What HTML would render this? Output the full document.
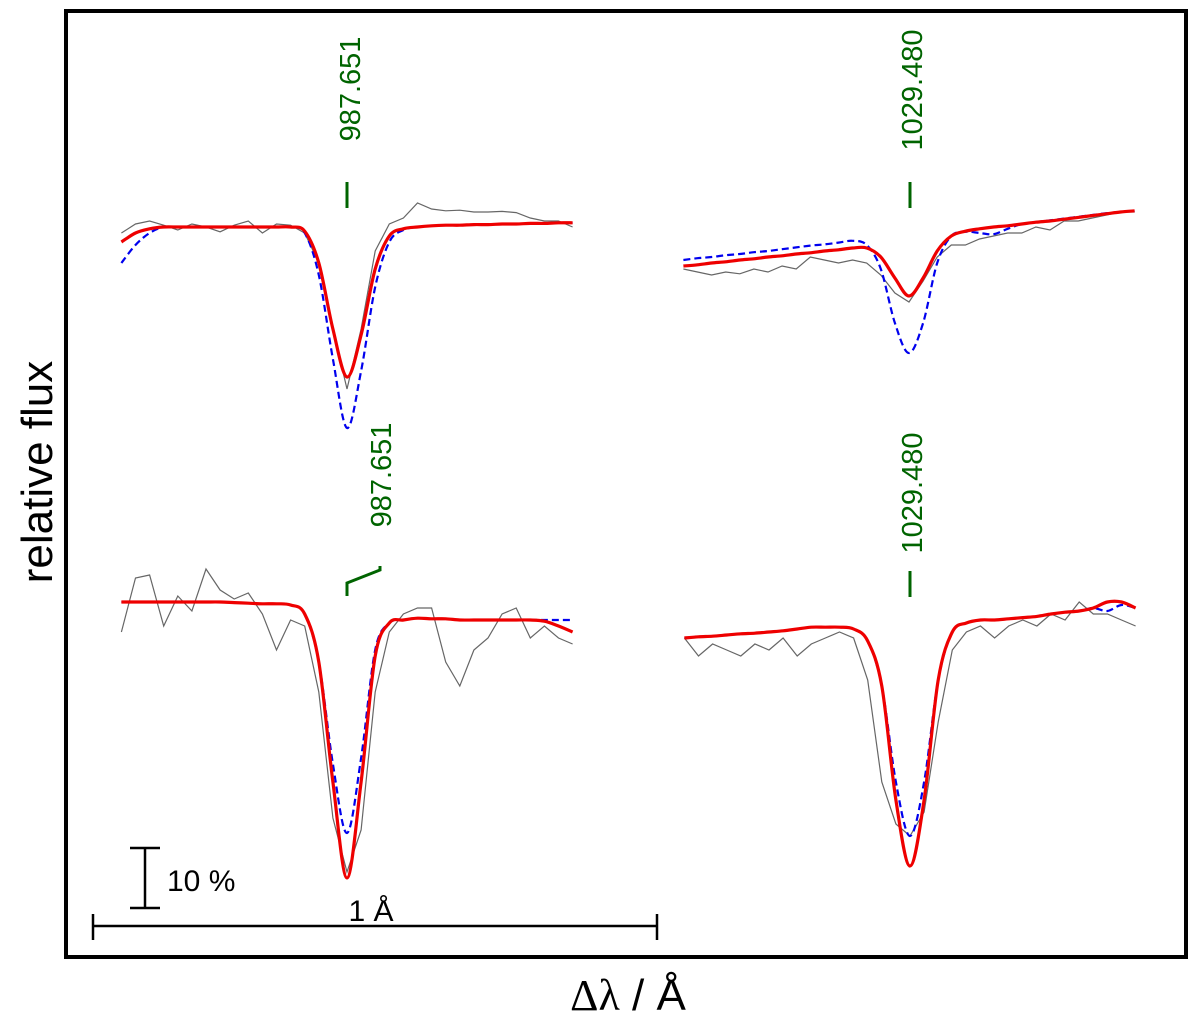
<!DOCTYPE html>
<html><head><meta charset="utf-8"><style>
html,body{margin:0;padding:0;background:#fff;}
svg{display:block;font-family:"Liberation Sans",sans-serif;}
</style></head><body>
<svg id="chart" width="1200" height="1012" viewBox="0 0 1200 1012" xmlns="http://www.w3.org/2000/svg">
<rect x="66" y="11" width="1120" height="946" fill="none" stroke="#000" stroke-width="4"/>
<text transform="translate(52,472) rotate(-90)" text-anchor="middle" font-size="44">relative flux</text>
<text x="628" y="1010" text-anchor="middle" font-size="44"><tspan font-family="Liberation Serif,serif">Δλ</tspan> / Å</text>
<g stroke="#000" stroke-width="2.5">
<line x1="145" y1="848" x2="145" y2="908"/><line x1="130" y1="848" x2="160" y2="848"/><line x1="130" y1="908" x2="160" y2="908"/>
</g>
<text x="167" y="891" font-size="30">10 %</text>
<g stroke="#000" stroke-width="2.5">
<line x1="93" y1="926" x2="657" y2="926"/><line x1="93" y1="914" x2="93" y2="940"/><line x1="657" y1="914" x2="657" y2="940"/>
</g>
<text x="371" y="921" text-anchor="middle" font-size="30">1 Å</text>
<g id="marks"></g>
</svg>
<script>
const dlGrid = [-0.4,-0.375,-0.35,-0.325,-0.3,-0.275,-0.25,-0.225,-0.2,-0.175,-0.15,-0.125,-0.1,-0.075,-0.05,-0.025,0,0.025,0.05,0.075,0.1,0.125,0.15,0.175,0.2,0.225,0.25,0.275,0.3,0.325,0.35,0.375,0.4];
const lineLabels = ["987.651","1029.480","987.651","1029.480"];
const p1Obs = [-1,0.5,1,0.3,-0.5,0.5,0,-0.8,0.3,1,-1,0.5,0.3,-1,-6,-17,-27,-17,-4,0.5,1.5,4,3,2.7,2.8,2.5,2.5,2.6,2.4,1.5,1,1,0];
const p1Fit = [-2.5,-1,-0.3,0,0,0,0,0,0,0,0,0,0,-0.7,-6,-17,-25,-18,-7,-1.5,-0.3,0,0.2,0.3,0.3,0.4,0.4,0.5,0.5,0.6,0.6,0.7,0.7];
const p1Alt = [-6,-3,-1,0,0,0,0,0,0,0,0,0,0,-1,-8,-22,-33.5,-24,-10,-2.5,-0.5,0,0.2,0.3,0.3,0.4,0.4,0.5,0.5,0.6,0.6,0.7,0.7];
const p2Obs = [-7,-7.5,-8,-7.5,-7.8,-7,-7.5,-6.5,-7,-5,-5.5,-6,-5.5,-6,-8,-11,-12.5,-9,-5,-3,-3,-2,-1.5,-1,-1,0,-0.5,1,1,1.5,2,2.5,2.5];
const p2Fit = [-6.5,-6.3,-6,-5.8,-5.5,-5.3,-5,-4.8,-4.5,-4.3,-4,-3.8,-3.5,-3.5,-5,-8.5,-11.5,-8.5,-4,-1.5,-0.7,-0.3,0,0.2,0.5,0.8,1,1.3,1.6,1.9,2.2,2.5,2.7];
const p2Alt = [-5.5,-5.2,-5,-4.7,-4.5,-4.2,-4,-3.7,-3.4,-3.1,-2.9,-2.6,-2.3,-3,-7,-16,-21,-16,-6,-1.5,-0.8,-1,-1.2,-0.3,0.5,0.8,1.1,1.4,1.7,2,2.3,2.5,2.7];
const p3Obs = [-5,4,4.5,-4,1,-1.5,5.5,2,0.5,1.5,-2,-8,-3,-4,-15,-36,-45,-38,-15,-5,-2,-1,-1,-10,-14,-8,-6,-2,-1,-6,-4,-6,-7];
const p3Fit = [0,0,0,0,0,0,0,0,-0.1,-0.2,-0.3,-0.3,-0.5,-2,-10,-30,-46,-30,-9,-3.5,-3,-2.7,-2.8,-2.8,-3,-3,-3,-3,-3,-3,-3.2,-4,-5];
const p3Alt = [0,0,0,0,0,0,0,0,-0.1,-0.2,-0.3,-0.3,-0.5,-2,-10,-27,-38.5,-26,-8,-3.5,-3,-2.7,-2.8,-2.8,-3,-3,-3,-3,-3,-3,-3,-3,-3];
const p4Obs = [-1,-4,-2,-3,-4,-2,-3,-1,-4,-2,-1,0,-1,-8,-25,-32,-34,-30,-15,-3,0,1,-1,1,2,1,3,2,5,3,3,2,1];
const p4Fit = [-1,-0.8,-0.7,-0.5,-0.3,-0.2,0,0.2,0.5,0.8,0.8,0.8,0.5,-1.5,-9,-28,-39,-28,-8,0,1.5,2,2,2.2,2.4,2.6,3,3.3,3.5,4,5,5,4];
const p4Alt = [-1,-0.8,-0.7,-0.5,-0.3,-0.2,0,0.2,0.5,0.8,0.8,0.8,0.5,-1.5,-9,-25,-34,-25,-8,0,1.5,2,2,2.2,2.4,2.6,3,3.3,3.5,4,3.5,4.5,4];

const panels = [
  {cx:347, by:227, obs:p1Obs, fit:p1Fit, alt:p1Alt, name:'panel-1'},
  {cx:909, by:227, obs:p2Obs, fit:p2Fit, alt:p2Alt, name:'panel-2'},
  {cx:347, by:602, obs:p3Obs, fit:p3Fit, alt:p3Alt, name:'panel-3'},
  {cx:910, by:632, obs:p4Obs, fit:p4Fit, alt:p4Alt, name:'panel-4'}
];
const PX_PER_A = 564, PX_PER_PCT = 6;
function xScale(p, dl){ return p.cx + dl*PX_PER_A; }
function yScale(p, f){ return p.by - f*PX_PER_PCT; }
function smoothPath(pts){
  let d = 'M'+pts[0][0].toFixed(1)+','+pts[0][1].toFixed(1);
  for(let i=0;i<pts.length-1;i++){
    const p0=pts[Math.max(0,i-1)], p1=pts[i], p2=pts[i+1], p3=pts[Math.min(pts.length-1,i+2)];
    const c1=[p1[0]+(p2[0]-p0[0])/6, p1[1]+(p2[1]-p0[1])/6];
    const c2=[p2[0]-(p3[0]-p1[0])/6, p2[1]-(p3[1]-p1[1])/6];
    d+=' C'+c1[0].toFixed(1)+','+c1[1].toFixed(1)+' '+c2[0].toFixed(1)+','+c2[1].toFixed(1)+' '+p2[0].toFixed(1)+','+p2[1].toFixed(1);
  }
  return d;
}
function linPath(pts){ return 'M'+pts.map(q=>q[0].toFixed(1)+','+q[1].toFixed(1)).join(' L'); }
const NS='http://www.w3.org/2000/svg';
const g=document.getElementById('marks');
panels.forEach((p,k)=>{
  const po = dlGrid.map((d,i)=>[xScale(p,d), yScale(p,p.obs[i])]);
  const pa = dlGrid.map((d,i)=>[xScale(p,d), yScale(p,p.alt[i])]);
  const pf = dlGrid.map((d,i)=>[xScale(p,d), yScale(p,p.fit[i])]);
  const e1=document.createElementNS(NS,'path');
  
  
  e1.setAttribute('d', linPath(po)); e1.setAttribute('fill','none'); e1.setAttribute('stroke','#666'); e1.setAttribute('stroke-width','1.2');
  g.appendChild(e1);
  const e2=document.createElementNS(NS,'path');
  
  
  e2.setAttribute('d', smoothPath(pa)); e2.setAttribute('fill','none'); e2.setAttribute('stroke','#0000ee'); e2.setAttribute('stroke-width','2.2'); e2.setAttribute('stroke-dasharray','7,4');
  g.appendChild(e2);
  const e3=document.createElementNS(NS,'path');
  
  
  e3.setAttribute('d', smoothPath(pf)); e3.setAttribute('fill','none'); e3.setAttribute('stroke','#ee0000'); e3.setAttribute('stroke-width','3.2');
  g.appendChild(e3);
});
const tickDefs = [
  {d:'M347,182 L347,208', tx:350, ty:89},
  {d:'M910,182 L910,208', tx:912, ty:90},
  {d:'M347,596 L347,583 L380,570 L380,566', tx:381, ty:475},
  {d:'M910,571 L910,597', tx:912, ty:493}
];
tickDefs.forEach((t,k)=>{
  const m=document.createElementNS(NS,'path');
  
  
  m.setAttribute('d', t.d); m.setAttribute('fill','none'); m.setAttribute('stroke','#006400'); m.setAttribute('stroke-width','3');
  g.appendChild(m);
  const tx=document.createElementNS(NS,'text');
  
  
  tx.setAttribute('transform','translate('+(t.tx+10)+','+t.ty+') rotate(-90)');
  tx.setAttribute('text-anchor','middle'); tx.setAttribute('font-size','29'); tx.setAttribute('fill','#006400');
  tx.textContent = lineLabels[k];
  g.appendChild(tx);
});
</script>
</body></html>
